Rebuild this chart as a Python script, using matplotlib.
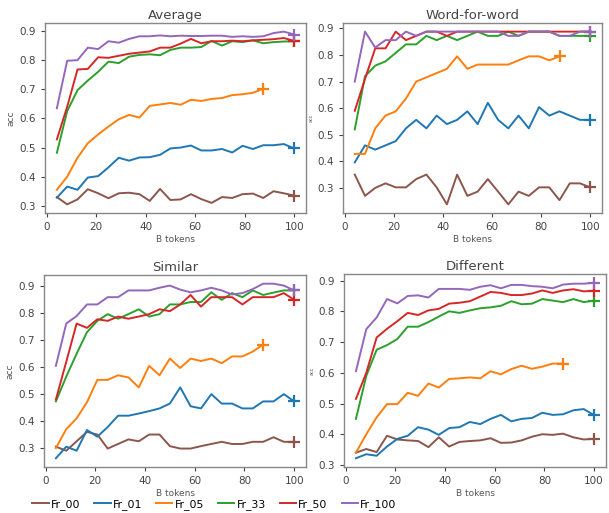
import matplotlib
matplotlib.use("Agg")
import matplotlib.pyplot as plt

# x grid: 24 checkpoints between ~4 and 100 B tokens
steps = list(range(1, 25))
tokens = [100 * k / 24 for k in steps]

series_names = ["Fr_00", "Fr_01", "Fr_05", "Fr_33", "Fr_50", "Fr_100"]
series_colors = ["#8c564b", "#1f77b4", "#ff7f0e", "#2ca02c", "#d62728", "#9467bd"]

# Average
avg_fr00 = [0.330, 0.305, 0.322, 0.357, 0.343, 0.326, 0.343, 0.345, 0.340, 0.317, 0.358, 0.320,
            0.322, 0.340, 0.323, 0.310, 0.330, 0.327, 0.340, 0.342, 0.327, 0.350, 0.343, 0.335]
avg_fr01 = [0.328, 0.366, 0.355, 0.397, 0.402, 0.432, 0.465, 0.455, 0.466, 0.467, 0.475, 0.497,
            0.500, 0.507, 0.490, 0.490, 0.495, 0.483, 0.506, 0.495, 0.508, 0.508, 0.512, 0.497]
avg_fr05 = [0.355, 0.400, 0.465, 0.515, 0.545, 0.572, 0.597, 0.612, 0.603, 0.643, 0.648, 0.653,
            0.647, 0.664, 0.660, 0.667, 0.670, 0.680, 0.683, 0.688, 0.702]
avg_fr33 = [0.482, 0.625, 0.697, 0.730, 0.760, 0.795, 0.790, 0.812, 0.818, 0.820, 0.817, 0.835,
            0.843, 0.843, 0.845, 0.866, 0.850, 0.865, 0.862, 0.868, 0.858, 0.862, 0.864, 0.865]
avg_fr50 = [0.528, 0.640, 0.768, 0.770, 0.810, 0.808, 0.815, 0.822, 0.826, 0.830, 0.843, 0.843,
            0.857, 0.873, 0.858, 0.865, 0.865, 0.867, 0.865, 0.868, 0.870, 0.872, 0.876, 0.866]
avg_fr100 = [0.635, 0.798, 0.800, 0.843, 0.838, 0.865, 0.860, 0.873, 0.882, 0.882, 0.885, 0.882,
             0.884, 0.883, 0.883, 0.884, 0.884, 0.880, 0.882, 0.880, 0.882, 0.893, 0.898, 0.888]

# Word-for-word
wfw_fr00 = [0.350, 0.270, 0.300, 0.317, 0.302, 0.302, 0.333, 0.350, 0.302, 0.238, 0.350, 0.270,
            0.286, 0.333, 0.286, 0.238, 0.286, 0.270, 0.302, 0.302, 0.254, 0.317, 0.317, 0.302]
wfw_fr01 = [0.396, 0.460, 0.444, 0.460, 0.476, 0.524, 0.556, 0.524, 0.572, 0.540, 0.556, 0.588,
            0.540, 0.620, 0.556, 0.524, 0.572, 0.524, 0.604, 0.572, 0.588, 0.572, 0.556, 0.556]
wfw_fr05 = [0.428, 0.428, 0.524, 0.572, 0.588, 0.636, 0.700, 0.716, 0.732, 0.748, 0.795, 0.748,
            0.764, 0.764, 0.764, 0.764, 0.780, 0.795, 0.795, 0.780, 0.795]
wfw_fr33 = [0.520, 0.720, 0.760, 0.776, 0.808, 0.840, 0.840, 0.872, 0.856, 0.872, 0.856, 0.872,
            0.888, 0.872, 0.872, 0.888, 0.872, 0.888, 0.888, 0.888, 0.872, 0.872, 0.872, 0.872]
wfw_fr50 = [0.590, 0.710, 0.825, 0.825, 0.888, 0.856, 0.872, 0.888, 0.888, 0.872, 0.888, 0.888,
            0.888, 0.888, 0.888, 0.888, 0.888, 0.888, 0.888, 0.888, 0.888, 0.888, 0.888, 0.888]
wfw_fr100 = [0.700, 0.888, 0.828, 0.856, 0.856, 0.888, 0.872, 0.888, 0.888, 0.888, 0.888, 0.888,
             0.888, 0.888, 0.888, 0.872, 0.872, 0.888, 0.888, 0.888, 0.872, 0.872, 0.888, 0.888]

# Similar
sim_fr00 = [0.305, 0.290, 0.325, 0.360, 0.350, 0.298, 0.315, 0.332, 0.325, 0.350, 0.350, 0.307,
            0.298, 0.298, 0.307, 0.315, 0.323, 0.315, 0.315, 0.323, 0.323, 0.340, 0.323, 0.323]
sim_fr01 = [0.262, 0.305, 0.290, 0.367, 0.342, 0.378, 0.420, 0.420, 0.428, 0.437, 0.447, 0.465,
            0.525, 0.455, 0.447, 0.500, 0.465, 0.465, 0.447, 0.447, 0.473, 0.473, 0.500, 0.473]
sim_fr05 = [0.300, 0.370, 0.410, 0.470, 0.553, 0.553, 0.570, 0.562, 0.525, 0.605, 0.570, 0.632,
            0.597, 0.632, 0.623, 0.632, 0.615, 0.640, 0.640, 0.658, 0.684]
sim_fr33 = [0.473, 0.565, 0.650, 0.730, 0.772, 0.797, 0.780, 0.797, 0.815, 0.788, 0.797, 0.833,
            0.833, 0.842, 0.842, 0.878, 0.850, 0.875, 0.860, 0.885, 0.868, 0.877, 0.885, 0.885]
sim_fr50 = [0.480, 0.620, 0.762, 0.746, 0.778, 0.772, 0.788, 0.780, 0.788, 0.797, 0.815, 0.808,
            0.833, 0.868, 0.825, 0.860, 0.860, 0.860, 0.833, 0.860, 0.860, 0.860, 0.875, 0.850]
sim_fr100 = [0.605, 0.762, 0.790, 0.833, 0.833, 0.860, 0.860, 0.885, 0.885, 0.885, 0.895, 0.903,
             0.888, 0.878, 0.885, 0.895, 0.885, 0.870, 0.875, 0.890, 0.910, 0.910, 0.903, 0.885]

# Different
dif_fr00 = [0.340, 0.352, 0.342, 0.395, 0.383, 0.380, 0.378, 0.358, 0.390, 0.360, 0.375, 0.378,
            0.380, 0.387, 0.372, 0.373, 0.380, 0.392, 0.400, 0.398, 0.402, 0.390, 0.383, 0.385]
dif_fr01 = [0.322, 0.335, 0.330, 0.360, 0.385, 0.395, 0.423, 0.415, 0.398, 0.420, 0.423, 0.440,
            0.433, 0.450, 0.463, 0.442, 0.450, 0.453, 0.470, 0.463, 0.465, 0.478, 0.482, 0.462]
dif_fr05 = [0.340, 0.400, 0.455, 0.498, 0.498, 0.535, 0.525, 0.565, 0.552, 0.580, 0.582, 0.585,
            0.582, 0.605, 0.595, 0.612, 0.623, 0.613, 0.620, 0.630, 0.630]
dif_fr33 = [0.450, 0.590, 0.675, 0.690, 0.710, 0.750, 0.750, 0.765, 0.783, 0.800, 0.795, 0.803,
            0.810, 0.813, 0.818, 0.833, 0.823, 0.825, 0.840, 0.835, 0.830, 0.840, 0.830, 0.835]
dif_fr50 = [0.515, 0.600, 0.715, 0.743, 0.768, 0.795, 0.788, 0.803, 0.808, 0.825, 0.828, 0.833,
            0.848, 0.863, 0.860, 0.853, 0.853, 0.858, 0.868, 0.860, 0.868, 0.872, 0.865, 0.867]
dif_fr100 = [0.605, 0.742, 0.780, 0.840, 0.826, 0.850, 0.852, 0.845, 0.873, 0.873, 0.873, 0.870,
             0.880, 0.885, 0.875, 0.886, 0.886, 0.882, 0.880, 0.875, 0.887, 0.890, 0.890, 0.893]

panels = [
    ("Average", [avg_fr00, avg_fr01, avg_fr05, avg_fr33, avg_fr50, avg_fr100],
     [0.0739, 0.5848, 0.4286, 0.3704]),
    ("Word-for-word", [wfw_fr00, wfw_fr01, wfw_fr05, wfw_fr33, wfw_fr50, wfw_fr100],
     [0.5632, 0.5848, 0.4253, 0.3704]),
    ("Similar", [sim_fr00, sim_fr01, sim_fr05, sim_fr33, sim_fr50, sim_fr100],
     [0.0722, 0.0897, 0.4305, 0.3743]),
    ("Different", [dif_fr00, dif_fr01, dif_fr05, dif_fr33, dif_fr50, dif_fr100],
     [0.5649, 0.0897, 0.4302, 0.3762]),
]

fig = plt.figure(figsize=(6.09, 5.13), dpi=100)

handles = []
for title, data, rect in panels:
    ax = fig.add_axes(rect)
    for name, color, vals in zip(series_names, series_colors, data):
        xs = tokens[:len(vals)]
        line, = ax.plot(xs, vals, color=color, lw=1.4, label=name)
        # cross marks the final checkpoint
        ax.plot(xs[-1], vals[-1], marker="+", color=color, ms=9, mew=1.6)
        if title == "Average":
            handles.append(line)
    ax.set_title(title, fontsize=9.5, color="#444444", pad=3)
    ax.set_xlabel("B tokens", fontsize=6.5, color="#555555", labelpad=2)
    if rect[0] < 0.3:
        ax.set_ylabel("acc", fontsize=6.5, color="#555555", labelpad=3)
    else:
        ax.set_ylabel("acc", fontsize=3.5, color="#555555", labelpad=3)
    ax.set_xticks([0, 20, 40, 60, 80, 100])
    ax.tick_params(labelsize=7.5, colors="#444444", length=3, width=0.8)
    for sp in ax.spines.values():
        sp.set_color("#888888")
        sp.set_linewidth(1.0)

fig.legend(handles, series_names, loc="center", ncol=6, frameon=False,
           bbox_to_anchor=(0.352, 0.017), fontsize=7.8, handlelength=1.5,
           handletextpad=0.2, columnspacing=1.3)

fig.savefig("out.png", dpi=100)
